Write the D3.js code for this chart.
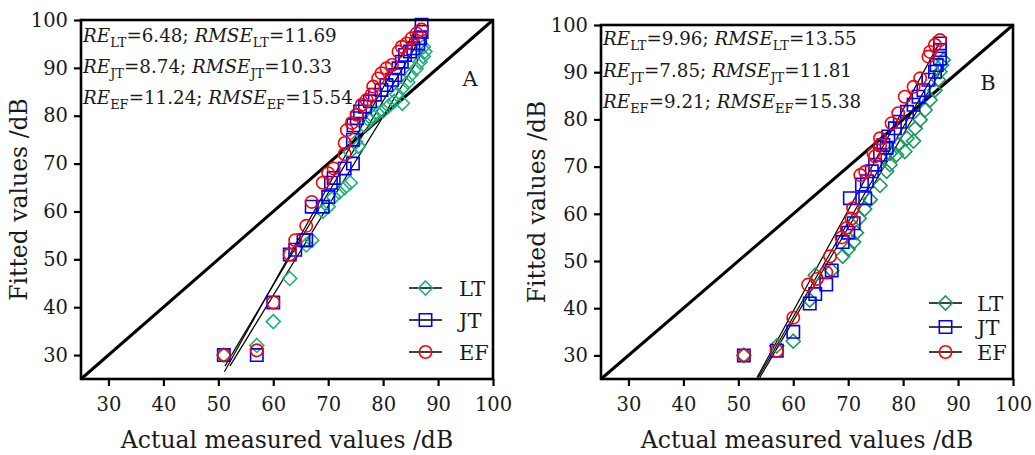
<!DOCTYPE html>
<html><head><meta charset="utf-8">
<script src="https://cdn.jsdelivr.net/npm/d3@7"></script>
<style>html,body{margin:0;padding:0;background:#fff;} svg{display:block;font-family:"DejaVu Serif",serif;}</style>
</head><body><svg id="c" width="1035" height="455"></svg>
<script>
// ---------- data ----------
const xTicks = [30,40,50,60,70,80,90,100];
const yTicks = [30,40,50,60,70,80,90,100];
const domainMin = 25, domainMax = 100;
const seriesNames = ["LT","JT","EF"];
const xTitle = "Actual measured values /dB";
const yTitle = "Fitted values /dB";

// Panel A: [actual, fitted]
const A_LT = [[51,30],[57,32],[60,37],[63,46],[66,53],[67,54],[69,60],[70,61],[71,63],[72,64],[73,65],[74,66],[74,72.5],[75.5,73.6],[75,74.5],[76.5,78],[77.5,79],[78,80],[79,80.5],[80,81],[81,82],[82,83],[83.5,82.6],[82.5,84.5],[83.5,85.8],[84.5,87],[85,88.5],[86,89.8],[86.7,91.2],[87.3,92.4],[87.6,93.4],[87.3,94.4]];
const A_JT = [[51,30],[57,30],[60,41],[63,51],[64,52],[65.5,54],[66,54],[67,61],[69,61],[70,63],[70.5,66],[71,67],[73,69],[74.5,70],[74.5,75],[74.6,78],[75.2,79.5],[75.8,80.9],[76.7,81.9],[77.6,83],[78.5,84.4],[79.7,85.4],[80.6,86.4],[81.6,87.5],[82.2,88.5],[82.8,89.9],[83.4,91.3],[84,92.7],[84.9,93.4],[85.5,94.1],[86.4,95.1],[86.7,96.2],[87,97.5],[87,99]];
const A_EF = [[51,30],[57,31],[60,41],[63,51],[64,54],[66,57],[67,62],[69,66],[70,68],[71,69],[73,72],[73,74.3],[73.4,77],[74.3,78.5],[75.2,80.2],[76.1,82.3],[77,83.3],[77.9,84.4],[78.2,86.1],[79.1,87.8],[79.7,88.9],[80.6,89.9],[81.6,90.6],[82.8,93.4],[83.4,94.4],[84.3,95.1],[85.2,96.2],[86.1,97.2],[87,98]];
// fitted lines [x1, y1, x2, y2]
const A_FIT = [[51.1,26.5,86.6,99.4],[51.2,27.7,86.6,95.8],[52.1,27.7,87.3,93.5]];
const A_STATS = [["LT","6.48","11.69"],["JT","8.74","10.33"],["EF","11.24","15.54"]];

// Panel B
const B_LT = [[51,30],[57,32],[60,33],[63,41.7],[64,47],[67,48],[69,51],[70,52.5],[71,54],[71.5,56],[72,59],[73,61],[74,63],[75.8,66],[77,69],[77.6,70.4],[77.6,72.8],[78.8,72.5],[79.1,74.6],[80.3,73.2],[80.7,76],[81.9,75.4],[82.2,78.1],[83.1,79.9],[84,82],[84.9,84.1],[85.8,86.2],[86.4,88.4],[86.7,90.1],[87,91.5],[87.3,92.6]];
const B_JT = [[51,30],[57,31],[60,35],[63,41],[64,43],[66,45],[67,48],[69,54],[70,56],[71,58],[70.3,63.3],[73.1,63.3],[72.5,66.2],[73.4,66.9],[74.3,69],[74.9,70.4],[75.8,72.5],[77,74],[76.4,74.6],[77.3,76.4],[78.5,78.1],[79.4,79.5],[80.7,81.6],[81.9,83.1],[82.8,84.8],[83.7,86.2],[84.6,88.4],[85.8,90.1],[86.1,91.5],[86.7,92.9],[86.7,94.7],[86.7,96.1]];
const B_EF = [[51,30],[57,31],[60,38],[62.7,45],[64.3,46.2],[66,47.6],[66.7,51],[68.8,55],[69.7,57],[70.6,59],[70.9,61.2],[72.2,68.2],[73.1,68.9],[74.9,72.2],[74.6,72.8],[75.8,74.6],[75.8,76],[77.9,79.2],[79.1,81.3],[80.3,84.8],[81.9,86.9],[83.1,88.7],[84.6,93.3],[84.9,94.3],[85.8,95.8],[86.7,96.8]];
const B_FIT = [[53.4,25.3,86.5,96.0],[53.6,25.3,86.8,92.0],[53.9,25.3,87.2,91.0]];
const B_STATS = [["LT","9.96","13.55"],["JT","7.85","11.81"],["EF","9.21","15.38"]];

// ---------- drawing ----------
const svg = d3.select("#c");

function markerPath(type) {
  if (type === "LT") { const h = 7; return `M0,${-h}L${h},0L0,${h}L${-h},0Z`; }
  if (type === "JT") { const h = 6.2; return `M${-h},${-h}H${h}V${h}H${-h}Z`; }
  const r = 6.2;
  return `M${r},0A${r},${r} 0 1,1 ${-r},0A${r},${r} 0 1,1 ${r},0Z`;
}

function drawPanel(cfg) {
  const x = d3.scaleLinear().domain([domainMin, domainMax]).range([cfg.left, cfg.right]);
  const y = d3.scaleLinear().domain([domainMin, domainMax]).range([cfg.bottom, cfg.top]);
  const colors = {LT: cfg.green, JT: "#0000ff", EF: "#ff0000"};
  const g = svg.append("g");

  // axes
  const xa = g.append("g").attr("transform", `translate(0,${cfg.bottom})`)
    .call(d3.axisBottom(x).tickValues(xTicks).tickSize(7).tickSizeOuter(0).tickPadding(11));
  const ya = g.append("g").attr("transform", `translate(${cfg.left},0)`)
    .call(d3.axisLeft(y).tickValues(yTicks).tickSize(7).tickSizeOuter(0).tickPadding(6));
  [xa, ya].forEach(a => {
    a.select(".domain").remove();
    a.selectAll("line").attr("stroke", "#000").attr("stroke-width", 2.2);
    a.selectAll("text").attr("font-family", "DejaVu Serif").attr("font-size", 19.5).attr("fill", "#1a1a1a");
  });

  // diagonal 1:1
  g.append("line").attr("x1", x(domainMin)).attr("y1", y(domainMin)).attr("x2", x(domainMax)).attr("y2", y(domainMax))
    .attr("stroke", "#000").attr("stroke-width", 3);

  // fit lines
  g.selectAll(".fit").data(cfg.fit).enter().append("line")
    .attr("x1", d => x(d[0])).attr("y1", d => y(d[1])).attr("x2", d => x(d[2])).attr("y2", d => y(d[3]))
    .attr("stroke", "#000").attr("stroke-width", 1.2);

  // points
  seriesNames.forEach((name, i) => {
    g.append("g").selectAll("path").data(cfg.series[i]).enter().append("path")
      .attr("transform", d => `translate(${x(d[0])},${y(d[1])})`)
      .attr("d", markerPath(name))
      .attr("fill", "none").attr("stroke", colors[name]).attr("stroke-width", 1.6);
  });

  // frame
  g.append("rect").attr("x", cfg.left).attr("y", cfg.top)
    .attr("width", cfg.right - cfg.left).attr("height", cfg.bottom - cfg.top)
    .attr("fill", "none").attr("stroke", "#000").attr("stroke-width", 2.6);

  // titles
  g.append("text").attr("x", (cfg.left + cfg.right) / 2).attr("y", 448).attr("text-anchor", "middle")
    .attr("font-size", 23.5).attr("fill", "#1a1a1a").text(xTitle);
  g.append("text").attr("transform", `translate(${cfg.yTitleX},${(cfg.top + cfg.bottom) / 2}) rotate(-90)`)
    .attr("text-anchor", "middle").attr("font-size", 23.5).attr("fill", "#1a1a1a").text(yTitle);

  // panel letter
  g.append("text").attr("x", cfg.letterX).attr("y", cfg.letterY).attr("text-anchor", "middle")
    .attr("font-size", 21).attr("fill", "#1a1a1a").text(cfg.letter);

  // stats
  cfg.stats.forEach((s, i) => {
    const t = g.append("text").attr("x", cfg.statsX).attr("y", cfg.statsY[i]).attr("font-size", 18.3).attr("fill", "#1a1a1a");
    t.append("tspan").attr("font-style", "italic").text("RE");
    t.append("tspan").attr("font-size", 13).attr("dy", 5).text(s[0]);
    t.append("tspan").attr("dy", -5).text("=" + s[1] + "; ");
    t.append("tspan").attr("font-style", "italic").text("RMSE");
    t.append("tspan").attr("font-size", 13).attr("dy", 5).text(s[0]);
    t.append("tspan").attr("dy", -5).text("=" + s[2]);
  });

  // legend
  seriesNames.forEach((name, i) => {
    const ly = cfg.legY[i];
    g.append("line").attr("x1", cfg.legX1).attr("x2", cfg.legX2).attr("y1", ly).attr("y2", ly)
      .attr("stroke", "#000").attr("stroke-width", 1.3);
    g.append("path").attr("transform", `translate(${(cfg.legX1 + cfg.legX2) / 2},${ly})`)
      .attr("d", markerPath(name)).attr("fill", "none").attr("stroke", colors[name]).attr("stroke-width", 1.6);
    g.append("text").attr("x", cfg.legTextX).attr("y", ly + 7.5).attr("font-size", 21).attr("fill", "#1a1a1a").text(name);
  });
}

drawPanel({
  left: 81, right: 493, top: 20, bottom: 379, yTitleX: 27,
  green: "#1bb27a", series: [A_LT, A_JT, A_EF], fit: A_FIT, stats: A_STATS,
  letter: "A", letterX: 470, letterY: 86, statsX: 83, statsY: [42, 73, 104],
  legX1: 409, legX2: 442, legTextX: 459, legY: [288, 320, 352]
});
drawPanel({
  left: 601, right: 1013, top: 25, bottom: 379, yTitleX: 545,
  green: "#17995c", series: [B_LT, B_JT, B_EF], fit: B_FIT, stats: B_STATS,
  letter: "B", letterX: 988, letterY: 90, statsX: 603, statsY: [45, 77, 108],
  legX1: 929, legX2: 962, legTextX: 977, legY: [303, 327, 352]
});
</script></body></html>
